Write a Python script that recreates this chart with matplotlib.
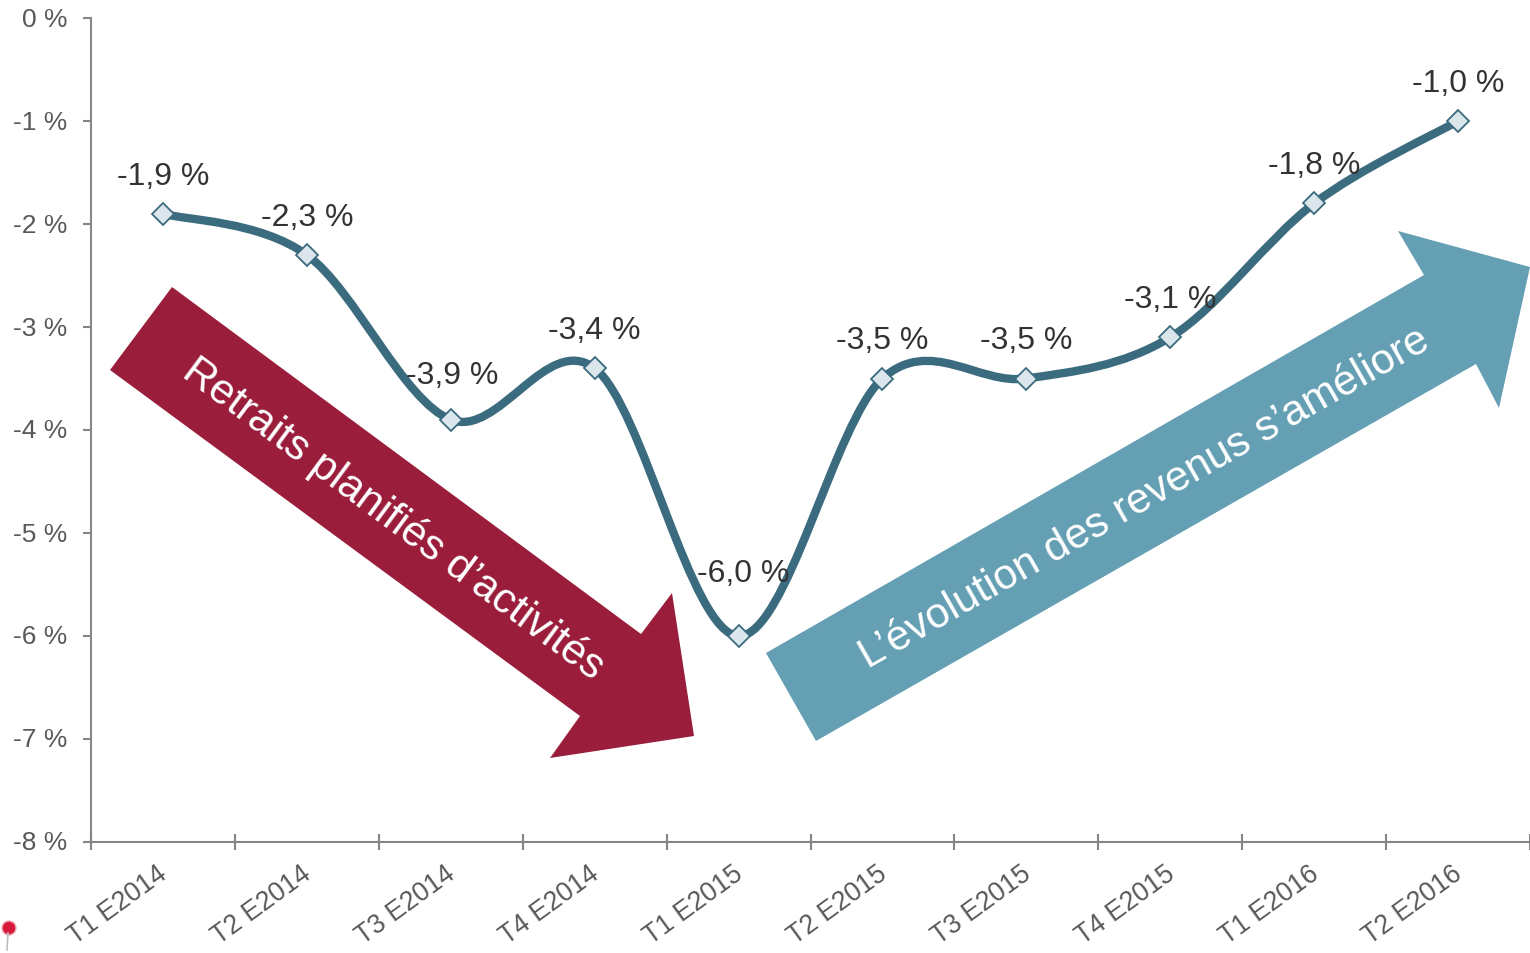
import matplotlib
matplotlib.use('Agg')
import matplotlib.pyplot as plt
from matplotlib.patches import Polygon, PathPatch, Circle
from matplotlib.path import Path
from matplotlib.transforms import Affine2D, ScaledTranslation

plt.rcParams['font.family'] = ['Liberation Sans', 'DejaVu Sans']

quarters = ['T1 E2014', 'T2 E2014', 'T3 E2014', 'T4 E2014', 'T1 E2015',
            'T2 E2015', 'T3 E2015', 'T4 E2015', 'T1 E2016', 'T2 E2016']
margin = [-1.9, -2.3, -3.9, -3.4, -6.0, -3.5, -3.5, -3.1, -1.8, -1.0]
y_ticks = [0, -1, -2, -3, -4, -5, -6, -7, -8]

LINE_COLOR = '#3b6b7f'
MARKER_FILL = '#dae6ec'
AXIS_COLOR = '#868686'
TICK_TEXT = '#595959'
LABEL_TEXT = '#333333'


def fr_label(value, decimals=1):
    return '{:.{d}f} %'.format(value, d=decimals).replace('.', ',')


def smooth_path(xs, ys):
    # same kind of smoothing as an office chart: bezier segments through each point
    verts = [(xs[0], ys[0])]
    codes = [Path.MOVETO]
    n = len(xs)
    for i in range(n - 1):
        x0, y0 = (xs[i - 1], ys[i - 1]) if i > 0 else (xs[i], ys[i])
        x3, y3 = (xs[i + 2], ys[i + 2]) if i + 2 < n else (xs[i + 1], ys[i + 1])
        verts.append((xs[i] + (xs[i + 1] - x0) / 6, ys[i] + (ys[i + 1] - y0) / 6))
        verts.append((xs[i + 1] - (x3 - xs[i]) / 6, ys[i + 1] - (y3 - ys[i]) / 6))
        verts.append((xs[i + 1], ys[i + 1]))
        codes += [Path.CURVE4] * 3
    return Path(verts, codes)


fig = plt.figure(figsize=(15.3, 9.54), dpi=100)
ax = fig.add_axes([91 / 1530, 1 - 843 / 954, (1530 - 91) / 1530, (843 - 19) / 954])
ax.patch.set_alpha(0)

positions = [i + 0.5 for i in range(len(quarters))]

ax.add_patch(PathPatch(smooth_path(positions, margin), fill=False, edgecolor=LINE_COLOR,
                       linewidth=6, capstyle='round', zorder=3))
ax.plot(positions, margin, linestyle='none', marker='D', markersize=11.5,
        markerfacecolor=MARKER_FILL, markeredgecolor=LINE_COLOR, markeredgewidth=1.3, zorder=4)

# labels sit a fixed distance above the points, except the two pushed clear of the line
for x, value in zip(positions, margin):
    dx, dy = 0, 27.5
    if value == -3.9:
        dx, dy = 1, 32.5
    elif value == -6.0:
        dx, dy = 3, 45
    ax.annotate(fr_label(value), (x, value), xytext=(dx, dy), textcoords='offset points',
                ha='center', va='center', fontsize=23, color=LABEL_TEXT, zorder=5)

ax.set_xlim(0, len(quarters))
ax.set_ylim(-8, 0)
ax.set_yticks(y_ticks)
ax.set_yticklabels([fr_label(v, 0) for v in y_ticks], fontsize=19, color=TICK_TEXT)
ax.set_xticks(range(len(quarters) + 1))
ax.set_xticklabels([])
ax.set_xticks(positions, minor=True)
ax.set_xticklabels(quarters, minor=True, fontsize=19.2, color=TICK_TEXT, rotation=36,
                   ha='right', va='top', rotation_mode='anchor')
ax.tick_params(axis='y', direction='out', length=6, width=1.5, color=AXIS_COLOR, pad=11)
ax.tick_params(axis='x', which='major', direction='inout', length=11.5, width=1.5, color=AXIS_COLOR)
ax.tick_params(axis='x', which='minor', length=0, pad=13)
x_shift = ScaledTranslation(-6 / 100, 0, fig.dpi_scale_trans)
for label in ax.get_xticklabels(minor=True):
    label.set_transform(label.get_transform() + x_shift)
y_shift = ScaledTranslation(0, 2 / 100, fig.dpi_scale_trans)
for label in ax.get_yticklabels():
    label.set_transform(label.get_transform() + y_shift)
ax.spines['top'].set_visible(False)
ax.spines['right'].set_visible(False)
for side in ['left', 'bottom']:
    ax.spines[side].set_color(AXIS_COLOR)
    ax.spines[side].set_linewidth(1.5)

# call-out arrows sit on the page, so they are placed in picture pixels
pixels = Affine2D().scale(1 / 1530, -1 / 954).translate(0, 1) + fig.transFigure
red_arrow = [(172, 288), (110, 371), (580, 717), (550, 759), (694, 737), (672, 594), (641, 635)]
blue_arrow = [(766, 654), (816, 742), (1476, 365), (1499, 409), (1530, 268), (1398, 232), (1424, 276)]
fig.add_artist(Polygon(red_arrow, closed=True, facecolor='#9a1d3b', edgecolor='none',
                       transform=pixels, zorder=6))
fig.add_artist(Polygon(blue_arrow, closed=True, facecolor='#659fb4', edgecolor='none',
                       transform=pixels, zorder=6))
fig.text(393, 519, 'Retraits planifiés d’activités', transform=pixels, color='white', fontsize=30.6,
         rotation=-36.5, rotation_mode='anchor', ha='center', va='center', zorder=7)
fig.text(1145, 499, 'L’évolution des revenus s’améliore', transform=pixels, color='white', fontsize=30.6,
         rotation=29.7, rotation_mode='anchor', ha='center', va='center', zorder=7)

# small pin in the corner
fig.add_artist(plt.Line2D([8, 7], [934, 951], transform=pixels, color='#bdbdbd', linewidth=1.2))
fig.add_artist(Circle((9, 929), 7, transform=pixels, facecolor='#d9183a', edgecolor='#eeb0bb', linewidth=1))

fig.savefig('out.png', dpi=100)
